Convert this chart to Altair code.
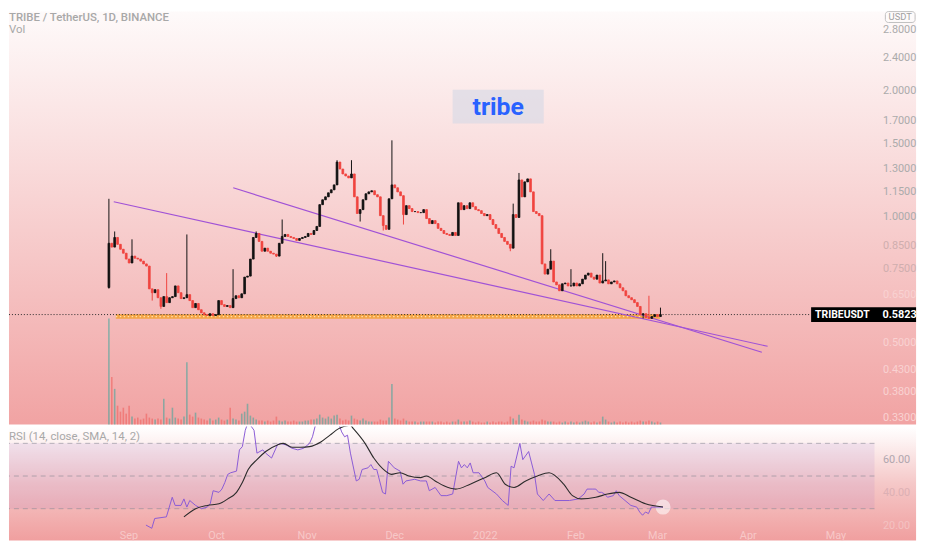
import altair as alt
import pandas as pd

BASE_DATE = "2021-08-24"
OPEN_FIRST = 0.676
CLOSE = [
    0.863, 0.845, 0.891, 0.858, 0.835, 0.817, 0.791, 0.774, 0.804, 0.795,
    0.791, 0.782, 0.770, 0.761, 0.671, 0.657, 0.668, 0.639, 0.609, 0.643,
    0.622, 0.639, 0.643, 0.682, 0.657, 0.636, 0.639, 0.650, 0.629, 0.605,
    0.619, 0.598, 0.588, 0.582, 0.579, 0.585, 0.579, 0.582, 0.629, 0.615,
    0.609, 0.612, 0.605, 0.636, 0.646, 0.639, 0.653, 0.716, 0.720, 0.791,
    0.891, 0.911, 0.872, 0.826, 0.840, 0.826, 0.817, 0.813, 0.804, 0.863,
    0.896, 0.906, 0.896, 0.891, 0.886, 0.877, 0.886, 0.891, 0.896, 0.911,
    0.906, 0.926, 0.947, 1.068, 1.097, 1.115, 1.140, 1.159, 1.191, 1.351,
    1.300, 1.265, 1.251, 1.238, 1.265, 1.115, 1.017, 1.039, 1.097, 1.134,
    1.146, 1.153, 1.128, 1.115, 1.005, 0.952, 0.932, 1.103, 1.191, 1.172,
    1.146, 1.122, 1.011, 1.062, 1.045, 1.028, 1.028, 1.022, 1.022, 1.039,
    0.989, 0.962, 0.978, 0.962, 0.937, 0.926, 0.911, 0.906, 0.901, 0.916,
    0.901, 1.079, 1.039, 1.062, 1.045, 1.079, 1.056, 1.039, 1.033, 1.017,
    1.005, 1.011, 0.984, 0.957, 0.937, 0.911, 0.891, 0.872, 0.858, 0.840,
    1.011, 0.995, 1.224, 1.115, 1.211, 1.231, 1.146, 1.028, 1.017, 1.005,
    0.770, 0.728, 0.748, 0.782, 0.697, 0.686, 0.664, 0.690, 0.693, 0.682,
    0.682, 0.693, 0.682, 0.690, 0.708, 0.724, 0.732, 0.716, 0.708, 0.724,
    0.693, 0.701, 0.705, 0.690, 0.697, 0.701, 0.690, 0.675, 0.664, 0.646,
    0.639, 0.632, 0.622, 0.609, 0.582, 0.585, 0.573, 0.570, 0.576, 0.582,
    0.576, 0.5823,
]
HIGH_AT = {0: 1.103, 2: 0.921, 8: 0.882, 20: 0.732, 27: 0.906, 43: 0.748,
           51: 0.921, 60: 0.984, 79: 1.365, 84: 1.365, 98: 1.523, 140: 1.074,
           142: 1.272, 153: 0.835, 160: 0.748, 171: 0.817, 172: 0.782,
           187: 0.646, 191: 0.605}
LOW_AT = {0: 0.672, 15: 0.629, 18: 0.601, 58: 0.800, 87: 0.973, 95: 0.926,
          102: 0.957, 139: 0.826, 185: 0.570}
VOLUME = [
    10.7, 4.8, 3.6, 1.9, 1.3, 1.7, 1.1, 1.9, 0.8, 0.6,
    0.7, 0.5, 0.6, 1.1, 0.7, 0.6, 0.5, 0.6, 0.5, 2.6,
    0.7, 0.6, 1.7, 0.7, 0.6, 0.5, 0.8, 6.3, 1.0, 0.8,
    1.2, 0.7, 0.6, 0.5, 0.4, 0.6, 0.4, 0.5, 0.7, 0.5,
    0.4, 0.5, 1.7, 0.6, 0.5, 0.4, 1.1, 1.3, 2.1, 0.9,
    0.7, 0.5, 0.4, 0.4, 0.3, 0.4, 0.3, 0.4, 0.8, 0.4,
    0.3, 0.4, 0.3, 0.3, 0.4, 0.3, 0.3, 0.3, 0.4, 0.4,
    0.5, 0.5, 0.6, 1.0, 0.7, 0.6, 0.8, 0.6, 0.9, 1.0,
    0.6, 0.4, 0.5, 0.4, 0.9, 0.6, 0.5, 0.4, 0.6, 0.4,
    0.3, 0.3, 0.3, 0.3, 0.5, 0.4, 0.4, 0.7, 4.1, 0.6,
    0.5, 0.4, 0.6, 0.4, 0.3, 0.3, 0.3, 0.2, 0.3, 0.3,
    0.3, 0.3, 0.3, 0.2, 0.3, 0.3, 0.2, 0.3, 0.2, 0.3,
    0.3, 0.5, 0.3, 0.3, 0.3, 0.4, 0.3, 0.2, 0.3, 0.2,
    0.2, 0.3, 0.2, 0.3, 0.2, 0.3, 0.3, 0.2, 0.3, 0.8,
    0.6, 0.4, 1.0, 0.5, 0.4, 0.3, 0.3, 0.4, 0.3, 0.3,
    0.5, 0.4, 0.3, 0.3, 0.3, 0.2, 0.3, 0.2, 0.3, 0.2,
    0.3, 0.2, 0.3, 0.2, 0.3, 0.4, 0.3, 0.2, 0.3, 0.2,
    0.3, 0.8, 0.5, 0.3, 0.2, 0.3, 0.2, 0.3, 0.2, 0.3,
    0.2, 0.3, 0.2, 0.3, 0.4, 0.3, 0.3, 0.4, 0.3, 0.2,
    0.3, 0.2,
]
RSI_DAY = [14, 16, 17, 21, 23, 24, 26, 27, 28, 29, 31, 33, 35, 36, 37, 39, 40, 41,
           42, 43, 45, 46, 47, 48, 49, 51, 52, 54, 55, 57, 59, 60, 62, 64, 66, 68,
           70, 71, 72, 73, 75, 77, 79, 80, 81, 82, 83, 84, 86, 87, 88, 90, 91, 92,
           93, 95, 96, 97, 99, 101, 102, 103, 106, 108, 110, 111, 113, 115, 117,
           119, 121, 122, 123, 124, 125, 126, 128, 130, 131, 134, 136, 138, 139,
           140, 142, 143, 145, 146, 147, 148, 150, 151, 152, 154, 159, 162, 164,
           165, 167, 168, 169, 170, 171, 172, 174, 175, 176, 178, 180, 182, 183,
           184, 185, 186, 187, 189, 191]
RSI_VAL = [20, 18, 24, 25, 37, 32, 32, 36, 31, 35, 32, 30, 31, 33, 41, 40, 42, 46,
           51, 52, 53, 66, 68, 78, 83, 78, 64, 66, 64, 61, 69, 70, 69, 67, 66, 67,
           70, 74, 81, 85, 87, 89, 90, 82, 77, 74, 75, 64, 47, 48, 54, 55, 57, 54,
           54, 40, 39, 59, 55, 53, 45, 47, 48, 47, 47, 41, 43, 38, 38,
           39, 59, 55, 57, 55, 58, 52, 52, 47, 43, 39, 35, 32, 56,
           55, 70, 60, 65, 58, 51, 39, 35, 37, 39, 35, 35, 36, 39,
           42, 42, 42, 40, 40, 39, 37, 38, 41, 38, 35, 32, 31, 28,
           26, 28, 27, 31, 31, 31]
SMA_DAY = [27, 31, 35, 39, 42, 45, 47, 49, 52, 55, 59, 61, 64, 67, 70, 74, 77, 80,
           84, 85, 89, 92, 96, 98, 101, 104, 108, 110, 113, 116, 120, 125, 130,
           134, 137, 140, 144, 148, 152, 157, 160, 163, 168, 172, 176, 180, 185, 191]
SMA_VAL = [25, 30, 32, 33, 36, 40, 46, 54, 60, 65, 69, 70, 67.6, 67.6, 68, 71, 75,
           79, 81, 79, 70, 61, 53, 51, 52, 50, 49, 50, 47, 44, 42, 45, 49, 52, 45,
           43, 47, 50, 52, 45, 38, 36, 37, 39, 40, 37, 33, 31]
TREND_A_DAY = [1.69, 228.1]
TREND_A_PRICE = [1.085, 0.4888]
TREND_B_DAY = [43.05, 226.1]
TREND_B_PRICE = [1.172, 0.473]
SUPPORT_DAY = [2.4, 190.8]
SUPPORT_PRICE = 0.576
LAST_PRICE = 0.5823
PRICE_TICKS = [0.33, 0.38, 0.43, 0.5, 0.65, 0.75, 0.85, 1.0, 1.15, 1.3, 1.5, 1.7,
               2.0, 2.4, 2.8]
RSI_TICKS = [20, 40, 60]
MONTH_TICKS = ["2021-09-01", "2021-10-01", "2021-11-01", "2021-12-01",
               "2022-01-01", "2022-02-01", "2022-03-01", "2022-04-01", "2022-05-01"]

# ---------------------------------------------------------------------------
base = pd.Timestamp(BASE_DATE)


def day(d):
    return base + pd.Timedelta(days=d)


def dt(ts):
    ts = pd.Timestamp(ts)
    return alt.DateTime(year=ts.year, month=ts.month, date=ts.day,
                        hours=ts.hour, minutes=ts.minute, seconds=ts.second)


n = len(CLOSE)
opens = [OPEN_FIRST] + CLOSE[:-1]
highs = [HIGH_AT.get(i, max(opens[i], CLOSE[i])) for i in range(n)]
lows = [LOW_AT.get(i, min(opens[i], CLOSE[i])) for i in range(n)]
candles = pd.DataFrame({
    "date": [day(i) for i in range(n)],
    "open": opens, "high": highs, "low": lows, "close": CLOSE, "vol": VOLUME,
})

rsi_df = pd.DataFrame({"date": [day(d) for d in RSI_DAY], "v": RSI_VAL})
sma_df = pd.DataFrame({"date": [day(d) for d in SMA_DAY], "v": SMA_VAL})
trend_df = pd.DataFrame({
    "date": [day(d) for d in TREND_A_DAY + TREND_B_DAY],
    "price": TREND_A_PRICE + TREND_B_PRICE,
    "line": ["a", "a", "b", "b"],
})
support_df = pd.DataFrame({"date": [day(d) for d in SUPPORT_DAY],
                           "price": [SUPPORT_PRICE, SUPPORT_PRICE]})
last_df = pd.DataFrame({"price": [LAST_PRICE]})
glow_df = sma_df.tail(1)
ONE = pd.DataFrame({"k": [0]})

PW = 874          # plot width of both panes
H1 = 417          # main pane height
H2 = 115          # RSI pane height
FULLW = 916
FONT = "Roboto"

x_scale = alt.Scale(domain=[dt(day(-32.88)), dt(day(263.39))], nice=False)
price_scale = alt.Scale(type="log", domain=[0.3174, 3.099], nice=False)
price_label_color = {
    "condition": [
        {"test": "datum.value < 0.7", "value": "#f9d2d2"},
        {"test": "datum.value < 0.95", "value": "#cfaeae"},
    ],
    "value": "#ababab",
}
PA = alt.Axis(orient="right", values=PRICE_TICKS, format=".4f", ticks=False,
              domain=False, grid=False, labelPadding=8, labelFontSize=11,
              labelFont=FONT, labelColor=price_label_color, title=None, zindex=1)
X = alt.X("date:T", scale=x_scale, axis=None)


def grad(stops):
    return alt.Gradient(gradient="linear",
                        stops=[alt.GradientStop(color=c, offset=o) for o, c in stops],
                        x1=0, x2=0, y1=0, y2=1)


def label(text, x, y, size=11.5, color="#9c9c9c", weight="normal", align="left",
          baseline="top"):
    return alt.Chart(ONE).mark_text(
        text=text, align=align, baseline=baseline, fontSize=size, font=FONT,
        color=color, fontWeight=weight,
    ).encode(x=alt.value(x), y=alt.value(y))


# ------------------------------- main pane ---------------------------------
bg1 = alt.Chart(ONE).mark_rect(
    fill=grad([(0, "#fefafa"), (0.3, "#fae1e1"), (0.6, "#f6c7c7"), (1, "#f1a3a3")]),
    strokeWidth=0,
).encode(x=alt.value(0), x2=alt.value(FULLW), y=alt.value(0), y2=alt.value(H1))

vol = alt.Chart(candles).mark_bar(size=1.6, opacity=0.5).encode(
    x=X,
    y=alt.Y("vol:Q", scale=alt.Scale(domain=[0, 41.7], nice=False, zero=True), axis=None),
    color=alt.condition("datum.close >= datum.open", alt.value("#26a69a"),
                        alt.value("#ef5350")),
)

support = alt.Chart(support_df).mark_line(color="#f5a030", strokeWidth=4.5,
                                          opacity=0.85).encode(
    x=X, y=alt.Y("price:Q", scale=price_scale, axis=PA))
support_dots = alt.Chart(support_df).mark_line(color="#ffe0a8", strokeWidth=1.2,
                                               strokeDash=[1.5, 2.5]).encode(
    x=X, y=alt.Y("price:Q", scale=price_scale, axis=PA))

last_line = alt.Chart(last_df).mark_rule(color="#2a2a2a", strokeWidth=1,
                                         strokeDash=[1, 2]).encode(
    x=alt.value(0), x2=alt.value(810), y=alt.Y("price:Q", scale=price_scale, axis=PA))

trend = alt.Chart(trend_df).mark_line(color="#a052d6", strokeWidth=1.2).encode(
    x=X, y=alt.Y("price:Q", scale=price_scale, axis=PA), detail="line:N")

candle_color = alt.condition("datum.close >= datum.open", alt.value("#121212"),
                             alt.value("#f0443f"))
wicks = alt.Chart(candles).mark_rule(strokeWidth=1).encode(
    x=X, y=alt.Y("low:Q", scale=price_scale, axis=PA), y2="high:Q", color=candle_color)
bodies = alt.Chart(candles).mark_bar(size=1.8, strokeWidth=0.8).encode(
    x=X, y=alt.Y("open:Q", scale=price_scale, axis=PA), y2="close:Q",
    color=candle_color, stroke=candle_color)

tag_box = alt.Chart(last_df).mark_rule(color="#000000", strokeWidth=15,
                                       strokeCap="butt").encode(
    x=alt.value(810), x2=alt.value(FULLW), y=alt.Y("price:Q", scale=price_scale, axis=PA))
tag_name = alt.Chart(last_df).mark_text(text="TRIBEUSDT", align="left", baseline="middle",
                                        fontSize=10.5, font=FONT, fontWeight="bold",
                                        color="#ffffff").encode(
    x=alt.value(814), y=alt.Y("price:Q", scale=price_scale, axis=PA))
tag_price = alt.Chart(last_df).mark_text(text="0.5823", align="left", baseline="middle",
                                         fontSize=11, font=FONT, fontWeight="bold",
                                         color="#ffffff").encode(
    x=alt.value(882), y=alt.Y("price:Q", scale=price_scale, axis=PA))

wm_box = alt.Chart(ONE).mark_rect(fill="#dcdbe6", opacity=0.75).encode(
    x=alt.value(448), x2=alt.value(540), y=alt.value(79), y2=alt.value(113))
wm_text = label("tribe", 494, 96, size=25, color="#2962ff", weight="bold",
                align="center", baseline="middle")

usdt_box = alt.Chart(ONE).mark_rect(fill="#ffffff", fillOpacity=0.3, stroke="#c0c0c0",
                                    strokeWidth=1, cornerRadius=3).encode(
    x=alt.value(885), x2=alt.value(915), y=alt.value(0), y2=alt.value(11))
usdt_text = label("USDT", 900, 5.5, size=9.5, color="#a0a0a0", align="center",
                  baseline="middle")

head1 = label("TRIBE / TetherUS, 1D, BINANCE", 0, 0, size=11.5, color="#a8a8a8",
              weight=500)
head2 = label("Vol", 0, 13, size=11.5, color="#a8a8a8")

price_layers = alt.layer(support, support_dots, last_line, trend, wicks, bodies,
                         tag_box, tag_name, tag_price)
main = alt.layer(bg1, vol, price_layers, wm_box, wm_text, usdt_box, usdt_text,
                 head1, head2).resolve_scale(y="independent").properties(
    width=PW, height=H1)

# -------------------------------- RSI pane ---------------------------------
rsi_scale = alt.Scale(domain=[10.6, 80.3], nice=False, zero=False)
rsi_label_color = {
    "condition": [
        {"test": "datum.value < 30", "value": "#f4c2c2"},
        {"test": "datum.value < 50", "value": "#dcb0b4"},
    ],
    "value": "#b0a6ae",
}
RA = alt.Axis(orient="right", values=RSI_TICKS, format=".2f", ticks=False, domain=False,
              grid=False, labelPadding=8, labelFontSize=11, labelFont=FONT,
              labelColor=rsi_label_color, title=None, zindex=1)
XA = alt.X("date:T", scale=x_scale, axis=alt.Axis(
    values=[dt(m) for m in MONTH_TICKS], ticks=False, domain=False, grid=False,
    labelExpr="month(datum.value) == 0 ? timeFormat(datum.value, '%Y') : timeFormat(datum.value, '%b')",
    labelFontSize=11, labelFont=FONT, labelColor="#f7c8c8", offset=-11, labelPadding=0,
    title=None, zindex=1))

bg2 = alt.Chart(ONE).mark_rect(
    fill=grad([(0, "#ffffff"), (0.12, "#fdf3f3"), (0.5, "#f5c8c8"), (1, "#f09f9f")]),
    strokeWidth=0,
).encode(x=alt.value(0), x2=alt.value(FULLW), y=alt.value(0), y2=alt.value(H2))

band = alt.Chart(ONE).mark_rect(fill="#8e5cc9", opacity=0.1).encode(
    x=alt.value(0), x2=alt.value(PW), y=alt.datum(70, scale=rsi_scale), y2=alt.datum(30))

levels = alt.Chart(pd.DataFrame({"lvl": [70, 50, 30]})).mark_rule(
    color="#8a8a94", strokeDash=[5, 4], strokeWidth=1, opacity=0.6).encode(
    y=alt.Y("lvl:Q", scale=rsi_scale, axis=RA))

rsi_line = alt.Chart(rsi_df).mark_line(color="#8a5bd6", strokeWidth=1, clip=True).encode(
    x=XA, y=alt.Y("v:Q", scale=rsi_scale, axis=RA))
sma_line = alt.Chart(sma_df).mark_line(color="#2b2b2b", strokeWidth=1.1, clip=True,
                                       interpolate="monotone").encode(
    x=XA, y=alt.Y("v:Q", scale=rsi_scale, axis=RA))
glow = alt.Chart(glow_df).mark_circle(color="#ffffff", opacity=0.55, size=230).encode(
    x=XA, y=alt.Y("v:Q", scale=rsi_scale, axis=RA))

head3 = label("RSI (14, close, SMA, 14, 2)", 0, 5, size=11.5, color="#a8a8a8")

rsi = alt.layer(bg2, band, levels, glow, rsi_line, sma_line, head3).properties(
    width=PW, height=H2)

chart = alt.vconcat(main, rsi, spacing=2).properties(padding=0).configure_view(
    stroke=None).configure_concat(spacing=2)

chart.save("out.html", embed_options={"renderer": "svg", "actions": False})
